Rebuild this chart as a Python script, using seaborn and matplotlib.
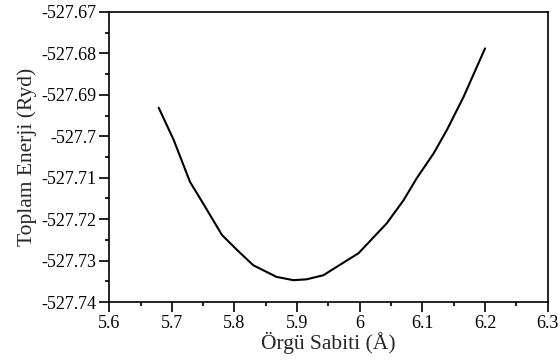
import numpy as np
import pandas as pd
import seaborn as sns
import matplotlib.pyplot as plt
from matplotlib.ticker import MultipleLocator, FuncFormatter

# lattice constant (Angstrom) vs total energy (Ryd)
lattice = [5.679, 5.703, 5.729, 5.750, 5.780, 5.804, 5.830, 5.867, 5.894,
           5.915, 5.942, 5.963, 5.998, 6.043, 6.070, 6.091, 6.118, 6.139,
           6.166, 6.200]
energy = [-527.6931, -527.7009, -527.7110, -527.7162, -527.7238, -527.7274,
          -527.7311, -527.7339, -527.7347, -527.7345, -527.7335, -527.7315,
          -527.7282, -527.7210, -527.7154, -527.7101, -527.7041, -527.6985,
          -527.6904, -527.6788]

x_ticks = [5.6, 5.7, 5.8, 5.9, 6.0, 6.1, 6.2, 6.3]
y_ticks = [-527.74, -527.73, -527.72, -527.71, -527.70, -527.69, -527.68, -527.67]

df = pd.DataFrame({"lattice": lattice, "energy": energy})

sns.set_style("ticks")
plt.rcParams["font.family"] = ["Liberation Serif", "DejaVu Serif"]

fig = plt.figure(figsize=(5.6, 3.61), dpi=100)
ax = fig.add_axes([0.195, 0.163, 0.783, 0.804])

sns.lineplot(data=df, x="lattice", y="energy", color="black", linewidth=1.5,
             sort=False, ax=ax)

ax.set_xlim(5.6, 6.3)
ax.set_ylim(-527.74, -527.67)
ax.set_xticks(x_ticks)
ax.set_yticks(y_ticks)
ax.xaxis.set_major_formatter(FuncFormatter(lambda v, p: f"{v:.1f}".rstrip("0").rstrip(".")))
ax.yaxis.set_major_formatter(FuncFormatter(lambda v, p: f"{v:.2f}".rstrip("0")))
ax.xaxis.set_minor_locator(MultipleLocator(0.05))
ax.yaxis.set_minor_locator(MultipleLocator(0.005))
ax.tick_params(which="major", direction="out", length=7, width=1.2,
               labelsize=13, colors="black", pad=2)
ax.tick_params(which="minor", direction="out", length=3, width=1.5)
for s in ax.spines.values():
    s.set_linewidth(1.2)
    s.set_color("black")

ax.set_xlabel("Örgü Sabiti (Å)", fontsize=15.5, labelpad=0)
ax.set_ylabel("Toplam Enerji (Ryd)", fontsize=15.5, labelpad=3)

fig.savefig("out.png", dpi=100)
